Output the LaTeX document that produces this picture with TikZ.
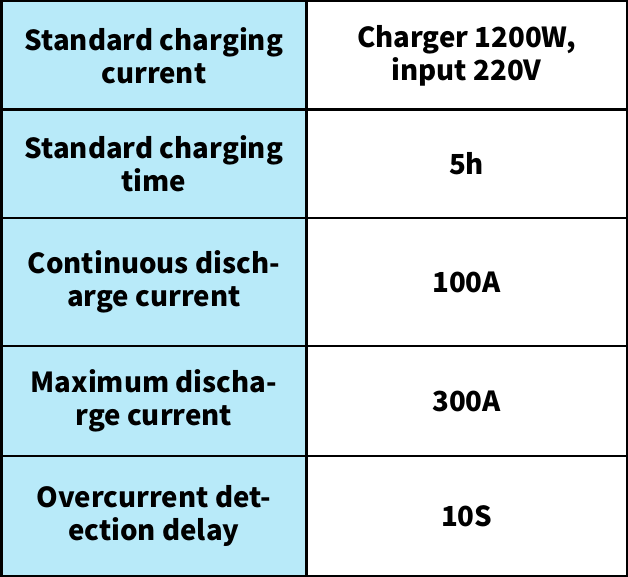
\documentclass[tikz,border=0pt]{standalone}
\usepackage{fontspec}
\setmainfont{Noto Sans CJK SC}
\usepackage{tikz}

\definecolor{cellblue}{RGB}{184,234,249}

\begin{document}
\begin{tikzpicture}[x=1pt,y=-1pt]
  \tikzset{cell/.style={draw, line width=2.5pt, inner sep=0pt, outer sep=0pt,
      anchor=north west, align=center,
      font=\bfseries\fontsize{27.6}{33}\selectfont},
    keycell/.style={cell, fill=cellblue, minimum width=305.25pt},
    valcell/.style={cell, fill=white, minimum width=320.25pt}}
  \useasboundingbox (0,0) rectangle (628,577);
  % left column
  \node[keycell, minimum height=108.25pt] (chgcurkey) at (1.25,1.25) {Standard charging\\current};
  \node[keycell, minimum height=108.5pt] (chgtimekey) at (1.25,109.5) {Standard charging\\time};
  \node[keycell, minimum height=128pt] (contkey) at (1.25,218) {Continuous disch-\\arge current};
  \node[keycell, minimum height=110pt] (maxkey) at (1.25,346) {Maximum discha-\\rge current};
  \node[keycell, minimum height=119.75pt] (delaykey) at (1.25,456) {Overcurrent det-\\ection delay};
  % right column
  \node[valcell, minimum height=108.25pt] (chgcurval) at (306.5,1.25) {Charger 1200W,\\input 220V};
  \node[valcell, minimum height=108.5pt] (chgtimeval) at (306.5,109.5) {5h};
  \node[valcell, minimum height=128pt] (contval) at (306.5,218) {100A};
  \node[valcell, minimum height=110pt] (maxval) at (306.5,346) {300A};
  \node[valcell, minimum height=119.75pt] (delayval) at (306.5,456) {10S};
\end{tikzpicture}
\end{document}
